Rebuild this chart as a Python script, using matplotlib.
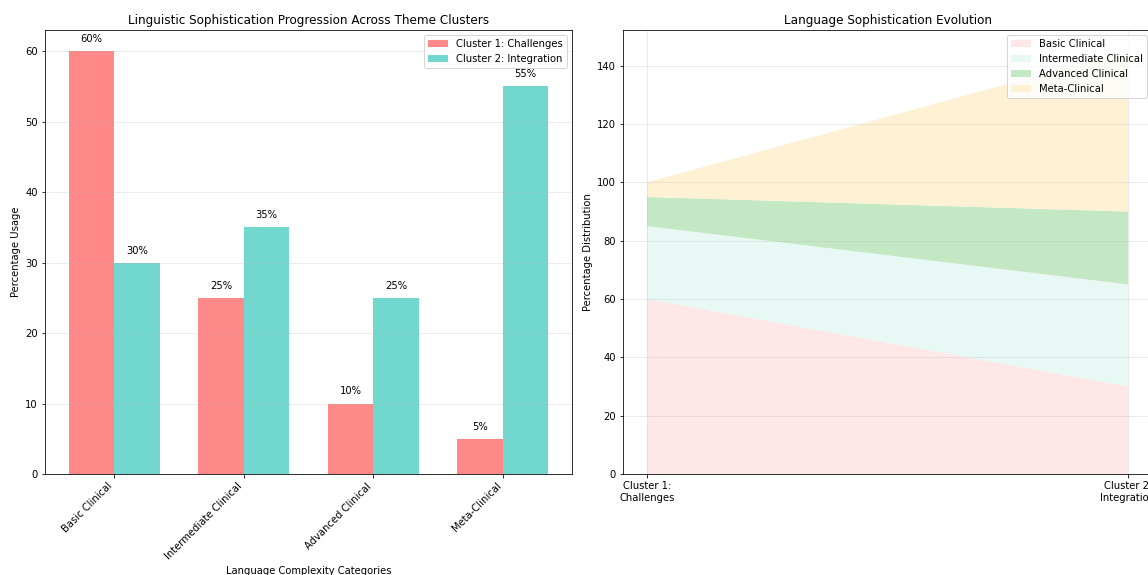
import numpy as np
import matplotlib
matplotlib.use("Agg")
import matplotlib.pyplot as plt

# Uso de cada categoria de lenguaje por cluster (%)
categorias = ["Basic Clinical", "Intermediate Clinical", "Advanced Clinical", "Meta-Clinical"]
cluster1 = [60, 25, 10, 5]
cluster2 = [30, 35, 25, 55]
clusters = ["Cluster 1:\nChallenges", "Cluster 2:\nIntegration"]

colores_barras = ["#FF6B6B", "#4ECDC4"]
colores_area = ["#FDE7E7", "#E8F8F5", "#C5E8C4", "#FEF1D4"]

DPI = 72
W, H = 1148, 575


def main():
    fig = plt.figure(figsize=(W / DPI, H / DPI), dpi=DPI)

    # ---------------------------------------------------------------
    # Barras agrupadas
    # ---------------------------------------------------------------
    ax1 = fig.add_axes([45 / W, 101 / H, 527 / W, 444 / H])
    x = np.arange(len(categorias))
    ancho = 0.35
    b1 = ax1.bar(x - ancho / 2, cluster1, ancho, label="Cluster 1: Challenges",
                 color=colores_barras[0], alpha=0.8)
    b2 = ax1.bar(x + ancho / 2, cluster2, ancho, label="Cluster 2: Integration",
                 color=colores_barras[1], alpha=0.8)
    for barras in (b1, b2):
        for b in barras:
            h = b.get_height()
            ax1.text(b.get_x() + b.get_width() / 2, h + 1, f"{h:.0f}%",
                     ha="center", va="bottom", fontsize=10)
    ax1.set_xticks(x)
    ax1.set_xticklabels(categorias, rotation=45, ha="right")
    ax1.set_xlabel("Language Complexity Categories")
    ax1.set_ylabel("Percentage Usage")
    ax1.set_title("Linguistic Sophistication Progression Across Theme Clusters",
                  fontsize=12)
    ax1.legend(loc="upper right")
    ax1.grid(axis="y", alpha=0.3)

    # ---------------------------------------------------------------
    # Areas apiladas
    # ---------------------------------------------------------------
    ax2 = fig.add_axes([623 / W, 101 / H, 529 / W, 444 / H])
    pos = np.arange(len(clusters))
    capas = np.array([cluster1, cluster2]).T
    ax2.stackplot(pos, capas, labels=categorias, colors=colores_area)
    ax2.set_xticks(pos)
    ax2.set_xticklabels(clusters)
    ax2.set_ylabel("Percentage Distribution")
    ax2.set_title("Language Sophistication Evolution", fontsize=12)
    ax2.legend(loc="upper right")
    ax2.grid(True, alpha=0.3)

    fig.savefig("out.png", dpi=DPI)


if __name__ == "__main__":
    main()
